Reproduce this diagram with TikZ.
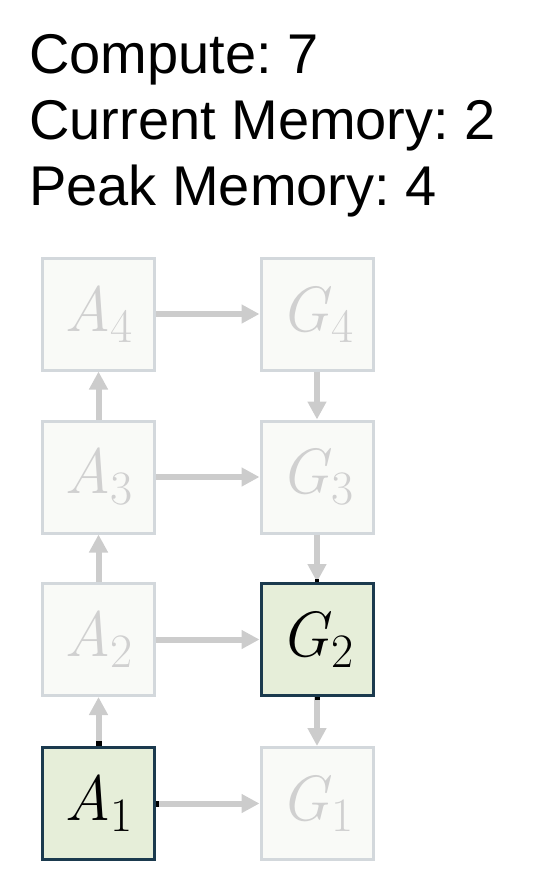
\documentclass[tikz,border=0pt]{standalone}
\usepackage{fontspec}
\setmainfont{Liberation Sans}
\newfontfamily\lmfont{Latin Modern Roman}
\usetikzlibrary{arrows.meta}
\definecolor{actfill}{HTML}{E6EED9}
\definecolor{actdraw}{HTML}{1B3A4E}
\definecolor{idlefill}{HTML}{F9FAF7}
\definecolor{idledraw}{HTML}{D3D8DC}
\definecolor{idletext}{HTML}{D0D0D0}
\definecolor{arrowgray}{HTML}{CCCCCC}
\newcommand{\cellname}[2]{{\lmfont\itshape #1\/}\raisebox{-11pt}{\lmfont\fontsize{48}{48}\selectfont #2}}
\tikzset{
  cell/.style={draw, line width=3pt, minimum width=112pt, minimum height=112pt,
    inner sep=0pt, font=\fontsize{64}{64}\selectfont},
  activecell/.style={cell, fill=actfill, draw=actdraw, text=black},
  idlecell/.style={cell, fill=idlefill, draw=idledraw, text=idletext},
  flow/.style={draw=arrowgray, line width=6pt, -{Triangle[length=18pt,width=18pt]}},
  stub/.style={draw=black},
  lbl/.style={anchor=base west, inner sep=0pt, font=\fontsize{56}{66}\selectfont\frenchspacing}
}
\begin{document}
\begin{tikzpicture}[x=1pt,y=-1pt]
\useasboundingbox (0,0) rectangle (538,892);
\node[lbl] (t1) at (29,73) {Compute: 7};
\node[lbl] (t2) at (29,139) {Current Memory: 2};
\node[lbl] (t3) at (29,205) {Peak Memory: 4};

\node[idlecell]   (A4) at (98.5,314) {\cellname{A}{4}};
\node[idlecell]   (A3) at (98.5,477) {\cellname{A}{3}};
\node[idlecell]   (A2) at (98.5,639.5) {\cellname{A}{2}};
\node[activecell] (A1) at (98.5,803.5) {\cellname{A}{1}};
\node[idlecell]   (G4) at (317,314) {\cellname{G}{4}};
\node[idlecell]   (G3) at (317,477) {\cellname{G}{3}};
\node[activecell] (G2) at (317,639.5) {\cellname{G}{2}};
\node[idlecell]   (G1) at (317,803.5) {\cellname{G}{1}};

\draw[flow] (A1) -- (A2);
\draw[flow] (A2) -- (A3);
\draw[flow] (A3) -- (A4);
\draw[flow] (G4) -- (G3);
\draw[flow] (G3) -- (G2);
\draw[flow] (G2) -- (G1);
\draw[flow] (A4) -- (G4);
\draw[flow] (A3) -- (G3);
\draw[flow] (A2) -- (G2);
\draw[flow] (A1) -- (G1);

\draw[stub, line width=6pt] (A1.north) -- ++(0,-5);
\draw[stub, line width=6pt] (A1.east) -- ++(2.5,0);
\draw[stub, line width=5pt] (G2.south) -- ++(0,2.5);
\draw[stub, line width=3.5pt] (G2.north) -- ++(0,-3);
\end{tikzpicture}
\end{document}
